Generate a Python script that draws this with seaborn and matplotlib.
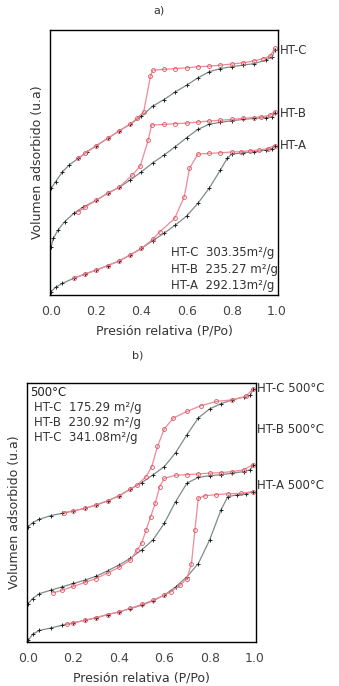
import matplotlib
matplotlib.use("Agg")
import matplotlib.pyplot as plt
import seaborn as sns

# ---------- panel a) ----------
# adsorcion (gris, +) / desorcion (rojo, o), volumen en unidades arbitrarias
a_c_ads_p = [0.0, 0.02, 0.05, 0.08, 0.12, 0.16, 0.2, 0.25, 0.3, 0.35, 0.4, 0.45, 0.5, 0.55, 0.6, 0.65, 0.7, 0.75, 0.8, 0.85, 0.9, 0.95, 0.98, 0.99]
a_c_ads_v = [40.3, 42.8, 46.5, 49.1, 51.6, 54.1, 56.4, 59.1, 61.9, 64.5, 67.5, 71.3, 73.8, 76.7, 79.2, 82.0, 84.3, 85.5, 86.2, 86.8, 87.4, 88.7, 90.0, 92.5]
a_c_des_p = [0.99, 0.97, 0.94, 0.9, 0.85, 0.8, 0.75, 0.7, 0.65, 0.6, 0.55, 0.5, 0.45, 0.44, 0.41, 0.38, 0.35, 0.3, 0.25, 0.2, 0.15, 0.12]
a_c_des_v = [93.1, 90.2, 89.3, 88.4, 87.7, 87.2, 86.8, 86.4, 86.2, 85.8, 85.5, 85.2, 84.9, 82.6, 69.2, 66.7, 64.5, 61.9, 59.1, 56.4, 53.5, 51.6]

a_b_ads_p = [0.0, 0.01, 0.03, 0.06, 0.1, 0.14, 0.2, 0.25, 0.3, 0.35, 0.4, 0.45, 0.5, 0.55, 0.6, 0.65, 0.7, 0.75, 0.8, 0.85, 0.9, 0.95, 0.98, 0.99]
a_b_ads_v = [18.2, 21.4, 24.5, 27.7, 30.8, 33.1, 35.8, 38.4, 40.6, 43.4, 46.5, 49.9, 52.8, 56.0, 59.4, 62.5, 64.5, 65.2, 65.8, 66.3, 66.7, 67.0, 67.3, 68.8]
a_b_des_p = [0.99, 0.97, 0.93, 0.9, 0.85, 0.8, 0.75, 0.7, 0.65, 0.6, 0.55, 0.5, 0.445, 0.43, 0.395, 0.36, 0.3, 0.25, 0.2, 0.15, 0.12]
a_b_des_v = [69.2, 67.9, 67.3, 67.0, 66.7, 66.3, 66.0, 65.7, 65.3, 64.9, 64.7, 64.4, 64.2, 58.5, 48.7, 45.3, 40.6, 38.4, 35.8, 33.1, 31.4]

a_a_ads_p = [0.0, 0.02, 0.05, 0.1, 0.15, 0.2, 0.25, 0.3, 0.35, 0.4, 0.45, 0.5, 0.55, 0.6, 0.65, 0.7, 0.75, 0.78, 0.8, 0.85, 0.9, 0.95, 0.98, 0.99]
a_a_ads_v = [1.3, 2.9, 4.4, 6.3, 7.9, 9.4, 11.1, 12.8, 15.1, 17.6, 20.5, 23.3, 26.4, 29.8, 34.6, 40.3, 47.2, 51.6, 53.2, 53.7, 54.1, 54.7, 55.3, 56.4]
a_a_des_p = [0.99, 0.96, 0.92, 0.88, 0.84, 0.8, 0.75, 0.7, 0.65, 0.613, 0.59, 0.547, 0.482, 0.45, 0.4, 0.35, 0.3, 0.25, 0.2, 0.15, 0.1]
a_a_des_v = [56.4, 55.3, 54.7, 54.5, 54.1, 54.0, 53.7, 53.5, 53.2, 47.8, 37.1, 28.9, 23.9, 21.0, 17.6, 15.1, 12.8, 11.1, 9.4, 7.9, 6.3]

# ---------- panel b) ----------
b_c_ads_p = [0, 0.02, 0.05, 0.1, 0.15, 0.2, 0.25, 0.3, 0.35, 0.4, 0.45, 0.5, 0.55, 0.6, 0.65, 0.7, 0.75, 0.8, 0.85, 0.9, 0.95, 0.98, 0.99]
b_c_ads_v = [44.5, 46.1, 47.4, 48.8, 49.7, 50.6, 51.6, 52.9, 54.5, 56.4, 59.0, 61.5, 64.5, 67.7, 73.1, 80.0, 86.5, 90.0, 92.0, 93.5, 94.6, 95.2, 97.7]
b_c_des_p = [0.99, 0.96, 0.9, 0.83, 0.76, 0.7, 0.64, 0.6, 0.57, 0.545, 0.52, 0.48, 0.45, 0.4, 0.35, 0.3, 0.25, 0.2, 0.16]
b_c_des_v = [97.7, 94.8, 93.5, 92.9, 91.2, 89.0, 86.5, 82.2, 75.5, 67.7, 63.9, 60.6, 59.0, 56.4, 54.5, 52.9, 51.6, 50.6, 50.0]

b_b_ads_p = [0, 0.02, 0.05, 0.1, 0.15, 0.2, 0.25, 0.3, 0.35, 0.4, 0.45, 0.5, 0.55, 0.6, 0.65, 0.7, 0.75, 0.8, 0.85, 0.9, 0.95, 0.98, 0.99]
b_b_ads_v = [14.8, 16.8, 18.7, 20.0, 21.3, 22.6, 23.9, 25.4, 27.5, 29.7, 32.3, 35.5, 39.4, 45.8, 54.2, 61.3, 63.6, 64.2, 64.6, 65.2, 65.8, 66.5, 68.4]
b_b_des_p = [0.99, 0.95, 0.9, 0.85, 0.8, 0.75, 0.7, 0.65, 0.6, 0.58, 0.56, 0.54, 0.52, 0.5, 0.48, 0.45, 0.4, 0.35, 0.3, 0.25, 0.2, 0.15, 0.11]
b_b_des_v = [68.4, 66.5, 65.8, 65.4, 65.2, 64.9, 64.6, 64.4, 63.2, 60.0, 53.5, 48.4, 43.2, 38.1, 35.5, 31.6, 28.8, 26.7, 24.5, 23.0, 21.5, 20.0, 19.0]

b_a_ads_p = [0, 0.02, 0.05, 0.1, 0.15, 0.2, 0.25, 0.3, 0.35, 0.4, 0.45, 0.5, 0.55, 0.6, 0.65, 0.7, 0.75, 0.8, 0.85, 0.88, 0.92, 0.96, 0.99]
b_a_ads_v = [0.6, 3.0, 4.5, 5.4, 6.5, 7.4, 8.4, 9.4, 10.6, 11.6, 12.9, 14.2, 15.9, 18.1, 21.3, 25.2, 30.3, 39.4, 51.0, 56.1, 56.8, 57.2, 58.1]
b_a_des_p = [0.99, 0.94, 0.88, 0.83, 0.78, 0.75, 0.735, 0.72, 0.7, 0.67, 0.63, 0.6, 0.55, 0.5, 0.45, 0.4, 0.35, 0.3, 0.25, 0.2, 0.17]
b_a_des_v = [58.1, 57.4, 57.2, 56.9, 56.5, 55.5, 43.2, 30.3, 24.5, 21.9, 19.4, 18.1, 16.1, 14.5, 13.0, 11.6, 10.6, 9.4, 8.4, 7.4, 6.8]

ticks = [0.0, 0.2, 0.4, 0.6, 0.8, 1.0]
tick_labels = ["0.0", "0.2", "0.4", "0.6", "0.8", "1.0"]

a_series = [(a_c_ads_p, a_c_ads_v, a_c_des_p, a_c_des_v),
            (a_b_ads_p, a_b_ads_v, a_b_des_p, a_b_des_v),
            (a_a_ads_p, a_a_ads_v, a_a_des_p, a_a_des_v)]
b_series = [(b_c_ads_p, b_c_ads_v, b_c_des_p, b_c_des_v),
            (b_b_ads_p, b_b_ads_v, b_b_des_p, b_b_des_v),
            (b_a_ads_p, b_a_ads_v, b_a_des_p, b_a_des_v)]

a_labels = ["HT-C", "HT-B", "HT-A"]
a_label_y = [92.5, 68.5, 56.5]
b_labels = ["HT-C 500°C", "HT-B 500°C", "HT-A 500°C"]
b_label_y = [98.0, 82.0, 60.5]

a_area = ["HT-C  303.35m²/g", "HT-B  235.27 m²/g", "HT-A  292.13m²/g"]
b_area = ["HT-C  175.29 m²/g", "HT-B  230.92 m²/g", "HT-C  341.08m²/g"]

sns.set_style("white")
plt.rcParams["font.family"] = ["DejaVu Sans"]

GRIS = "#7d8c8a"
ROJO_LINEA = "#f08a98"
ROJO_MARCA = "#e0505e"


def dibujar_isotermas(ax, series):
    for ads_p, ads_v, des_p, des_v in series:
        sns.lineplot(x=ads_p, y=ads_v, sort=False, ax=ax, color=GRIS, lw=0.9,
                     marker="+", markersize=3, markeredgecolor="#222222",
                     markeredgewidth=0.7)
        sns.lineplot(x=des_p, y=des_v, sort=False, ax=ax, color=ROJO_LINEA, lw=0.9,
                     marker="o", markersize=2.8, markerfacecolor="none",
                     markeredgecolor=ROJO_MARCA, markeredgewidth=0.6)


def estilo_ejes(ax, titulo_y):
    ax.set_xlim(-0.005, 1.005)
    ax.set_ylim(0, 100)
    ax.set_xticks(ticks)
    ax.set_xticklabels(tick_labels, fontsize=9, color="#444444")
    ax.set_yticks([])
    ax.tick_params(axis="x", length=0, pad=7)
    for s in ax.spines.values():
        s.set_color("black")
        s.set_linewidth(1.0)
    ax.set_xlabel("Presión relativa (P/Po)", fontsize=9, color="#333333", labelpad=5)
    ax.set_ylabel(titulo_y, fontsize=9, color="#333333", labelpad=4)


fig = plt.figure(figsize=(3.39, 6.86), dpi=100)

ax_a = fig.add_axes([0.1475, 0.570, 0.6725, 0.386])
dibujar_isotermas(ax_a, a_series)
estilo_ejes(ax_a, "Volumen adsorbido (u.a)")
for etiqueta, y in zip(a_labels, a_label_y):
    ax_a.text(1.01, y, etiqueta, fontsize=8.5, color="#333333", va="center", ha="left",
              transform=ax_a.get_yaxis_transform())
for i, txt in enumerate(a_area):
    ax_a.text(0.53, 16 - i * 6.3, txt, fontsize=8.5, color="#333333", va="center", ha="left")
fig.text(0.47, 0.984, "a)", fontsize=8, color="#333333", ha="center", va="center")

ax_b = fig.add_axes([0.0796, 0.0641, 0.676, 0.3776])
dibujar_isotermas(ax_b, b_series)
estilo_ejes(ax_b, "Volumen adsorbido (u.a)")
for etiqueta, y in zip(b_labels, b_label_y):
    ax_b.text(1.005, y, etiqueta, fontsize=8.5, color="#333333", va="center", ha="left",
              transform=ax_b.get_yaxis_transform())
ax_b.text(0.01, 96.5, "500°C", fontsize=8.5, color="#222222", va="center", ha="left")
for i, txt in enumerate(b_area):
    ax_b.text(0.025, 90.5 - i * 5.8, txt, fontsize=8.5, color="#333333", va="center", ha="left")
fig.text(0.405, 0.482, "b)", fontsize=8, color="#333333", ha="center", va="center")

fig.savefig("out.png", dpi=100)
